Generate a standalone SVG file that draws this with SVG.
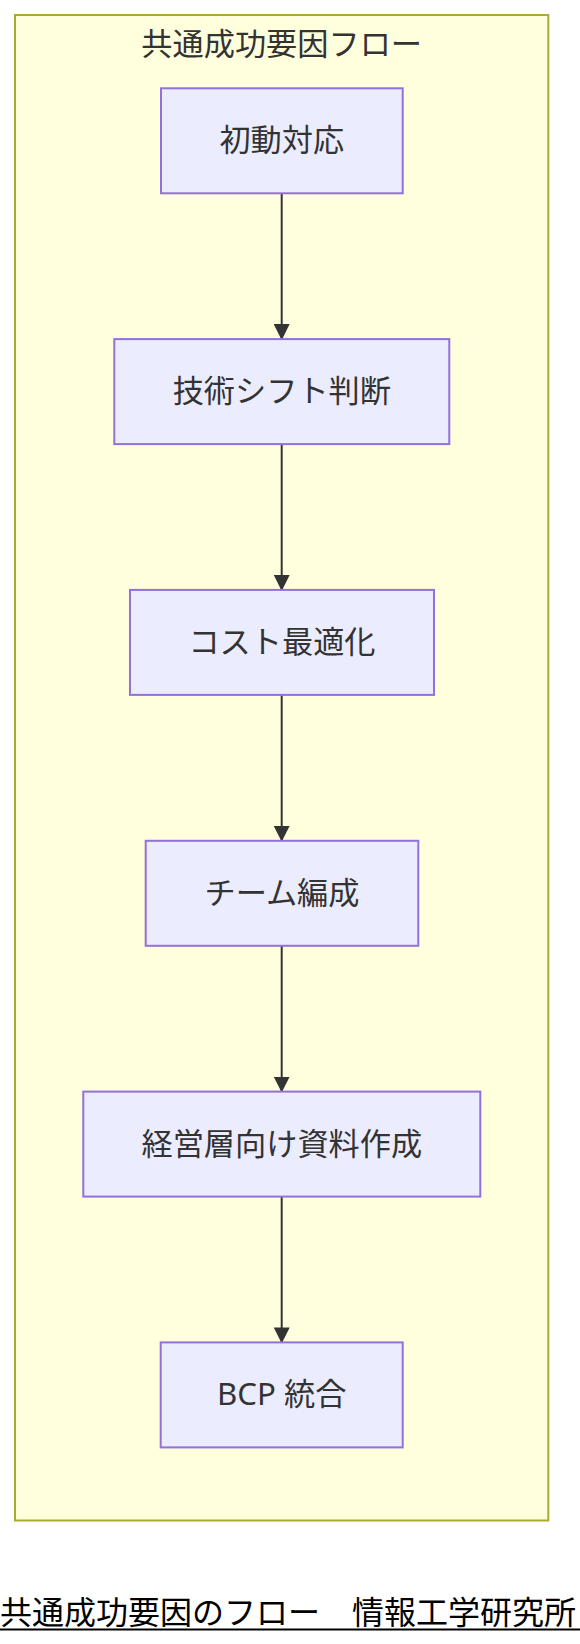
<svg xmlns="http://www.w3.org/2000/svg" width="580" height="1644" viewBox="0 0 580 1644">
<style>
.cluster{fill:#ffffde;stroke:#aaaa33;stroke-width:2}
.node rect{fill:#ECECFF;stroke:#9370DB;stroke-width:2}
.label{font-family:"Noto Sans","Noto Sans CJK JP",sans-serif;font-size:31.2px;fill:#333333;text-anchor:middle}
.edge{stroke:#333333;stroke-width:2;fill:none}
.footer{font-family:"Noto Sans CJK JP","Noto Sans",sans-serif;font-size:32px;fill:#000000}
</style>
<defs>
<marker id="arrow" markerUnits="userSpaceOnUse" markerWidth="16" markerHeight="16" viewBox="0 0 16 16" refX="15" refY="8" orient="auto">
<path d="M0,0 L16,8 L0,16 Z" fill="#333333"/>
</marker>
</defs>
<rect width="580" height="1644" fill="#ffffff"/>
<g id="cluster">
<rect class="cluster" x="15" y="15" width="533.3" height="1505.5"/>
<text class="label" x="281.7" y="54.5">共通成功要因フロー</text>
</g>
<g id="edges">
<line class="edge" x1="281.7" y1="193.3" x2="281.7" y2="339.1" marker-end="url(#arrow)"/>
<line class="edge" x1="281.7" y1="444.1" x2="281.7" y2="589.9" marker-end="url(#arrow)"/>
<line class="edge" x1="281.7" y1="694.9" x2="281.7" y2="840.8" marker-end="url(#arrow)"/>
<line class="edge" x1="281.7" y1="945.8" x2="281.7" y2="1091.6" marker-end="url(#arrow)"/>
<line class="edge" x1="281.7" y1="1196.6" x2="281.7" y2="1342.4" marker-end="url(#arrow)"/>
</g>
<g id="n1" class="node">
<rect x="161" y="88.3" width="241.7" height="105"/>
<text class="label" x="281.8" y="151.3">初動対応</text>
</g>
<g id="n2" class="node">
<rect x="114.3" y="339.1" width="335" height="105"/>
<text class="label" x="281.8" y="402.1">技術シフト判断</text>
</g>
<g id="n3" class="node">
<rect x="130" y="589.9" width="304" height="105"/>
<text class="label" x="282" y="652.9">コスト最適化</text>
</g>
<g id="n4" class="node">
<rect x="145.7" y="840.8" width="272.6" height="105"/>
<text class="label" x="282" y="903.8">チーム編成</text>
</g>
<g id="n5" class="node">
<rect x="83.3" y="1091.6" width="397" height="105"/>
<text class="label" x="281.8" y="1154.6">経営層向け資料作成</text>
</g>
<g id="n6" class="node">
<rect x="160.7" y="1342.4" width="242" height="105"/>
<text class="label" x="281.7" y="1405.4">BCP 統合</text>
</g>
<g id="footer">
<text class="footer" x="0" y="1624">共通成功要因のフロー　情報工学研究所</text>
<rect x="0" y="1628.5" width="580" height="2" fill="#000000"/>
</g>
</svg>
